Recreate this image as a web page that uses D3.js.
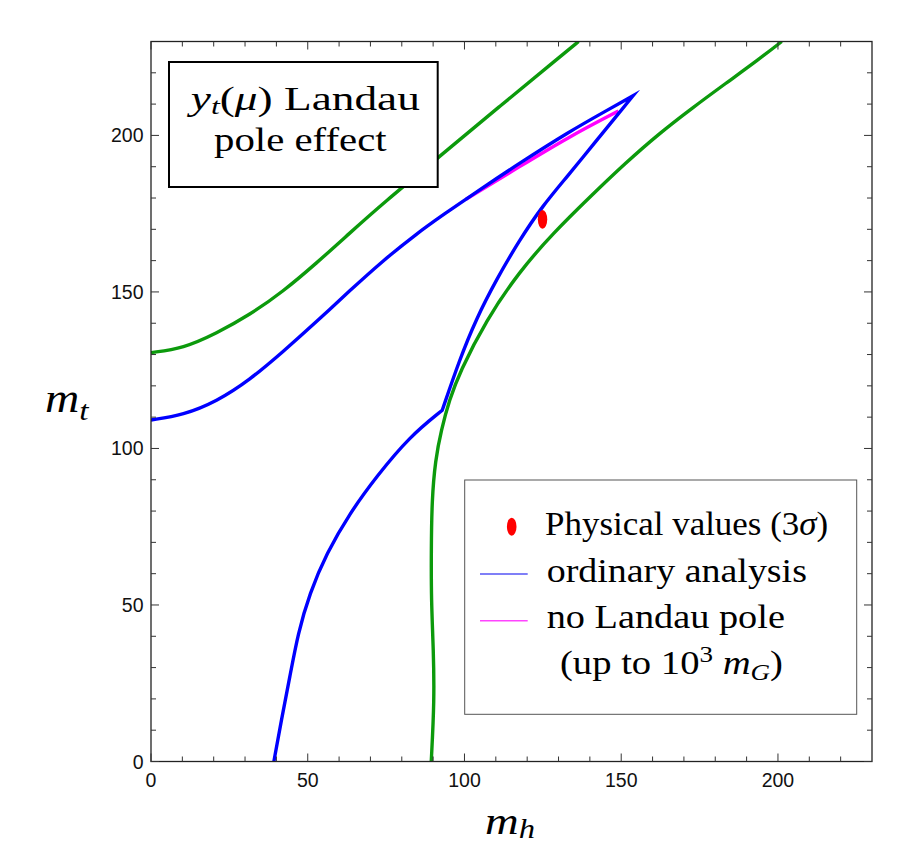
<!DOCTYPE html>
<html>
<head>
<meta charset="utf-8">
<script src="https://cdn.jsdelivr.net/npm/d3@7"></script>
<style>
  html, body { margin: 0; padding: 0; background: #fff; }
  svg { display: block; }
</style>
</head>
<body>
<svg id="chart" width="915" height="846"></svg>
<script>
// ---------------- data (m_h, m_t) ----------------
const greenUpper = [[0,130.6],[10.3,132.0],[20.9,136.8],[31.5,142.7],[42.1,150.1],[52.8,159.2],[63.4,168.8],[74,178.3],[92,193.2],[111,209.1],[130.3,225.0],[136.4,230]];
const greenRight = [[89.4,0],[90.4,19.6],[90.1,35.6],[89.4,51.6],[89.4,67.6],[89.6,83.5],[90.7,96.3],[92.6,106],[95.2,115.5],[98.4,124.2],[106.9,141.0],[117.5,156.5],[128.1,168.6],[140.9,181.2],[151.5,191.3],[162.1,200.6],[172.7,208.8],[183.3,216.6],[193.9,224.3],[201.2,230]];
const blueUpper = [[0,109.1],[10.3,110.7],[20.9,115.0],[31.5,121.9],[42.1,130.9],[52.8,140.5],[63.4,150.4],[74,160.0],[84.6,168.5],[93.1,174.6],[104.8,182.6],[117.5,191.1],[133.4,201.2],[145.1,207.8],[153.8,212.7]];
const blueInner = [[153.8,212.7],[149.4,207.3],[141.4,197.5],[132.9,187.0],[124.9,177.5],[117.5,166.5],[110.1,153.8],[103.7,141.3],[98.4,128.3],[92.9,112.2]];
const blueLower = [[92.9,112.2],[82.5,103.8],[71.9,91.0],[63.4,79.3],[56,66.5],[50.6,53.7],[46.9,41.0],[44.3,27.1],[41.6,13.3],[39.2,0]];
const magentaLine = [[100.5,179.6],[117.5,190.0],[133.4,199.6],[149.1,207.8]];
const physCenter = [124.9, 173.2];
const physSemiAxes = [1.5, 3.0];
const majorTicks = [0, 50, 100, 150, 200];
const minorTicks = [10,20,30,40,60,70,80,90,110,120,130,140,160,170,180,190,210,220];
const tickLabels = ["0", "50", "100", "150", "200"];
const legendLabels = ["Physical values (3σ)", "ordinary analysis", "no Landau pole", "(up to 10³ m_G)"];

// ---------------- setup ----------------
const svg = d3.select("#chart");
const x = d3.scaleLinear().domain([0, 230]).range([151, 872]);
const y = d3.scaleLinear().domain([0, 230]).range([761.5, 41.5]);
const COL = { green: "#0c9a0c", blue: "#0000ff", magenta: "#ff00ff", red: "#ff0000" };
const SERIF = "'Liberation Serif', 'Times New Roman', serif";
const SANS = "'Liberation Sans', Arial, sans-serif";
const LW = 3.4;

svg.append("defs").append("clipPath").attr("id", "plotclip")
  .append("rect").attr("x", 151).attr("y", 41.5).attr("width", 721).attr("height", 720);

const plot = svg.append("g").attr("clip-path", "url(#plotclip)");
const line = d3.line().x(d => x(d[0])).y(d => y(d[1])).curve(d3.curveBasis);

// green curves
[greenUpper, greenRight].forEach(d => {
  plot.append("path").attr("d", line(d)).attr("fill", "none")
    .attr("stroke", COL.green).attr("stroke-width", LW).attr("stroke-linejoin", "round");
});

// magenta (under blue)
plot.append("path").attr("d", line(magentaLine)).attr("fill", "none")
  .attr("stroke", COL.magenta).attr("stroke-width", LW).attr("stroke-linecap", "butt");

// blue: single path with sharp joins
const segs = [blueUpper, blueInner, blueLower].map(s => line(s));
const bluePath = segs[0] + segs.slice(1).map(s => "L" + s.slice(1)).join("");
plot.append("path").attr("d", bluePath).attr("fill", "none")
  .attr("stroke", COL.blue).attr("stroke-width", LW).attr("stroke-linejoin", "miter").attr("stroke-miterlimit", 10);

// physical values ellipse
plot.append("ellipse")
  .attr("cx", x(physCenter[0])).attr("cy", y(physCenter[1]))
  .attr("rx", x(physCenter[0] + physSemiAxes[0]) - x(physCenter[0]))
  .attr("ry", y(physCenter[1]) - y(physCenter[1] + physSemiAxes[1]))
  .attr("fill", COL.red);

// ---------------- frame & ticks ----------------
const frame = svg.append("g");
frame.append("rect").attr("x", 151).attr("y", 41.5).attr("width", 721).attr("height", 720)
  .attr("fill", "none").attr("stroke", "#222").attr("stroke-width", 1.3);

function ticks(values, len) {
  values.forEach(v => {
    const px = x(v), py = y(v);
    frame.append("line").attr("x1", px).attr("x2", px).attr("y1", 761.5).attr("y2", 761.5 - len);
    frame.append("line").attr("x1", px).attr("x2", px).attr("y1", 41.5).attr("y2", 41.5 + len);
    frame.append("line").attr("y1", py).attr("y2", py).attr("x1", 151).attr("x2", 151 + len);
    frame.append("line").attr("y1", py).attr("y2", py).attr("x1", 872).attr("x2", 872 - len);
  });
}
ticks(majorTicks, 8);
ticks(minorTicks, 5);
frame.selectAll("line").attr("stroke", "#333").attr("stroke-width", 1);

majorTicks.forEach((v, i) => {
  svg.append("text").attr("x", x(v)).attr("y", 787).attr("text-anchor", "middle")
    .attr("font-family", SANS).attr("font-size", 19.5).attr("fill", "#111").text(tickLabels[i]);
  svg.append("text").attr("x", 143.5).attr("y", y(v) + 7).attr("text-anchor", "end")
    .attr("font-family", SANS).attr("font-size", 19.5).attr("fill", "#111").text(tickLabels[i]);
});

// ---------------- text helper: fits text horizontally into [left,right] ----------------
function fitText(parent, parts, left, right, baseline, size) {
  const t = parent.append("text").attr("x", 0).attr("y", 0)
    .attr("font-family", SERIF).attr("font-size", size).attr("fill", "#000");
  let cur = 0;
  parts.forEach(p => {
    const shift = p.shift || 0;
    const ts = t.append("tspan").text(p.t).attr("dy", (shift - cur));
    cur = shift;
    if (p.italic) ts.attr("font-style", "italic");
    if (p.scale) ts.attr("font-size", size * p.scale);
  });
  const bb = t.node().getBBox();
  const sx = (right - left) / bb.width;
  t.attr("transform", `translate(${left - bb.x * sx},${baseline}) scale(${sx},1)`);
  return t;
}

// ---------------- title box ----------------
const tb = svg.append("g");
tb.append("rect").attr("x", 169).attr("y", 62).attr("width", 268.7).attr("height", 125)
  .attr("fill", "#fff").attr("stroke", "#000").attr("stroke-width", 2);
fitText(tb, [
  { t: "y", italic: true },
  { t: "t", italic: true, scale: 0.7, shift: 4 },
  { t: "(" },
  { t: "μ", italic: true },
  { t: ") Landau" }
], 186.7, 420, 110, 33);
fitText(tb, [{ t: "pole effect" }], 214, 386.7, 151, 33);

// ---------------- legend ----------------
const lg = svg.append("g");
lg.append("rect").attr("x", 464.7).attr("y", 480).attr("width", 392).attr("height", 234.3)
  .attr("fill", "#fff").attr("stroke", "#555").attr("stroke-width", 1);
lg.append("ellipse").attr("cx", 511.7).attr("cy", 526.7).attr("rx", 4.8).attr("ry", 9).attr("fill", COL.red);
lg.append("line").attr("x1", 480).attr("x2", 527.7).attr("y1", 574).attr("y2", 574)
  .attr("stroke", "#5454f4").attr("stroke-width", 1.6);
lg.append("line").attr("x1", 480).attr("x2", 527.7).attr("y1", 620.7).attr("y2", 620.7)
  .attr("stroke", "#ff44ff").attr("stroke-width", 1.6);
fitText(lg, [{ t: "Physical values (3" }, { t: "σ", italic: true }, { t: ")" }], 545, 828.3, 535, 34);
fitText(lg, [{ t: legendLabels[1] }], 546.7, 807, 581.7, 34);
fitText(lg, [{ t: legendLabels[2] }], 546.7, 785, 628, 34);
fitText(lg, [
  { t: "(up to 10" },
  { t: "3", scale: 0.7, shift: -12 },
  { t: " " },
  { t: "m", italic: true },
  { t: "G", italic: true, scale: 0.7, shift: 6 },
  { t: ")" }
], 560, 783, 674, 34);

// ---------------- axis labels ----------------
fitText(svg, [{ t: "m", italic: true }, { t: "t", italic: true, scale: 0.7, shift: 8 }], 45, 90, 411.7, 40);
fitText(svg, [{ t: "m", italic: true }, { t: "h", italic: true, scale: 0.7, shift: 4 }], 485, 535, 834, 38);
</script>
</body>
</html>
